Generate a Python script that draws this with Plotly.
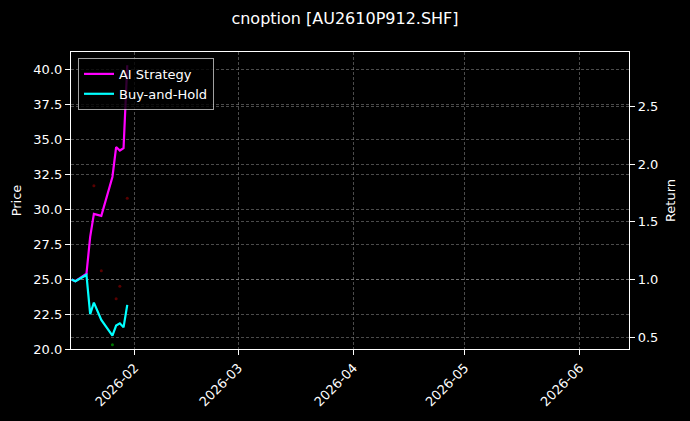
import plotly.graph_objects as go

# ---- data ----
dates = ["2026-01-15", "2026-01-16", "2026-01-19", "2026-01-20", "2026-01-21", "2026-01-22",
         "2026-01-23", "2026-01-26", "2026-01-27", "2026-01-28", "2026-01-29", "2026-01-30"]
ai_strategy = [1.00, 0.985, 1.05, 1.37, 1.57, 1.56, 1.553, 1.89, 2.15, 2.12, 2.14, 2.86]
buy_and_hold = [1.00, 0.985, 1.04, 0.70, 0.80, 0.72, 0.65, 0.514, 0.60, 0.62, 0.585, 0.78]

sell_dates = ["2026-01-21", "2026-01-23", "2026-01-27", "2026-01-28", "2026-01-30"]
sell_prices = [31.7, 25.6, 23.6, 24.5, 30.8]
buy_dates = ["2026-01-26"]
buy_prices = [20.3]

title_text = "cnoption [AU2610P912.SHF]"

FONT = "DejaVu Sans"
WHITE = "#ffffff"
GRID = "rgba(150,150,150,0.5)"

fig = go.Figure()

# signal markers on the price axis
fig.add_trace(go.Scatter(x=sell_dates, y=sell_prices, mode="markers", yaxis="y",
                         marker=dict(color="rgba(255,0,0,0.35)", size=3, line=dict(width=0)),
                         showlegend=False, hoverinfo="skip"))
fig.add_trace(go.Scatter(x=buy_dates, y=buy_prices, mode="markers", yaxis="y",
                         marker=dict(color="rgba(0,200,0,0.6)", size=3, line=dict(width=0)),
                         showlegend=False, hoverinfo="skip"))

fig.add_trace(go.Scatter(x=dates, y=ai_strategy, mode="lines", name="AI Strategy", yaxis="y2",
                         line=dict(color="#ff00ff", width=2.2)))
fig.add_trace(go.Scatter(x=dates, y=buy_and_hold, mode="lines", name="Buy-and-Hold", yaxis="y2",
                         line=dict(color="#00ffff", width=2.2)))

axis_common = dict(
    showline=True, linecolor=WHITE, linewidth=1.2,
    ticks="outside", tickcolor=WHITE, ticklen=5, tickwidth=1,
    tickfont=dict(color=WHITE, size=13, family=FONT),
    showgrid=True, gridcolor=GRID, griddash="3px,2px", gridwidth=0.5,
    zeroline=False,
)

fig.update_layout(
    width=690, height=421,
    paper_bgcolor="#000000", plot_bgcolor="#000000",
    margin=dict(l=71, r=61, t=52, b=69),
    font=dict(family=FONT, color=WHITE, size=13),
    title=dict(text=title_text, x=0.5, xanchor="center", y=0.957, yanchor="middle",
               font=dict(size=16, color=WHITE, family=FONT)),
    xaxis=dict(
        type="date",
        range=["2026-01-14 20:00", "2026-06-14 06:00"],
        dtick="M1", tickformat="%Y-%m", tickangle=-45,
        mirror=True,
        **axis_common,
    ),
    yaxis=dict(
        range=[20.0, 41.27], dtick=2.5, tick0=20, tickformat=".1f",
        title=dict(text="Price", font=dict(size=13, color=WHITE, family=FONT), standoff=8),
        mirror=True,
        **axis_common,
    ),
    yaxis2=dict(
        range=[0.397, 2.975], dtick=0.5, tick0=0.5, tickformat=".1f",
        overlaying="y", side="right",
        title=dict(text="Return", font=dict(size=13, color=WHITE, family=FONT), standoff=8),
        **axis_common,
    ),
    legend=dict(
        x=0.0125, y=0.98, xanchor="left", yanchor="top",
        bgcolor="rgba(0,0,0,0.8)", bordercolor="rgba(200,200,200,0.8)", borderwidth=1,
        font=dict(size=13, color=WHITE, family=FONT),
        tracegroupgap=0, itemwidth=30,
    ),
    showlegend=True,
)

fig.write_html(
    "out.html",
    config={"displayModeBar": False},
    post_script="document.body.style.margin='0';document.body.style.background='#000';"
                "document.documentElement.style.background='#000';document.body.style.overflow='hidden';",
)
